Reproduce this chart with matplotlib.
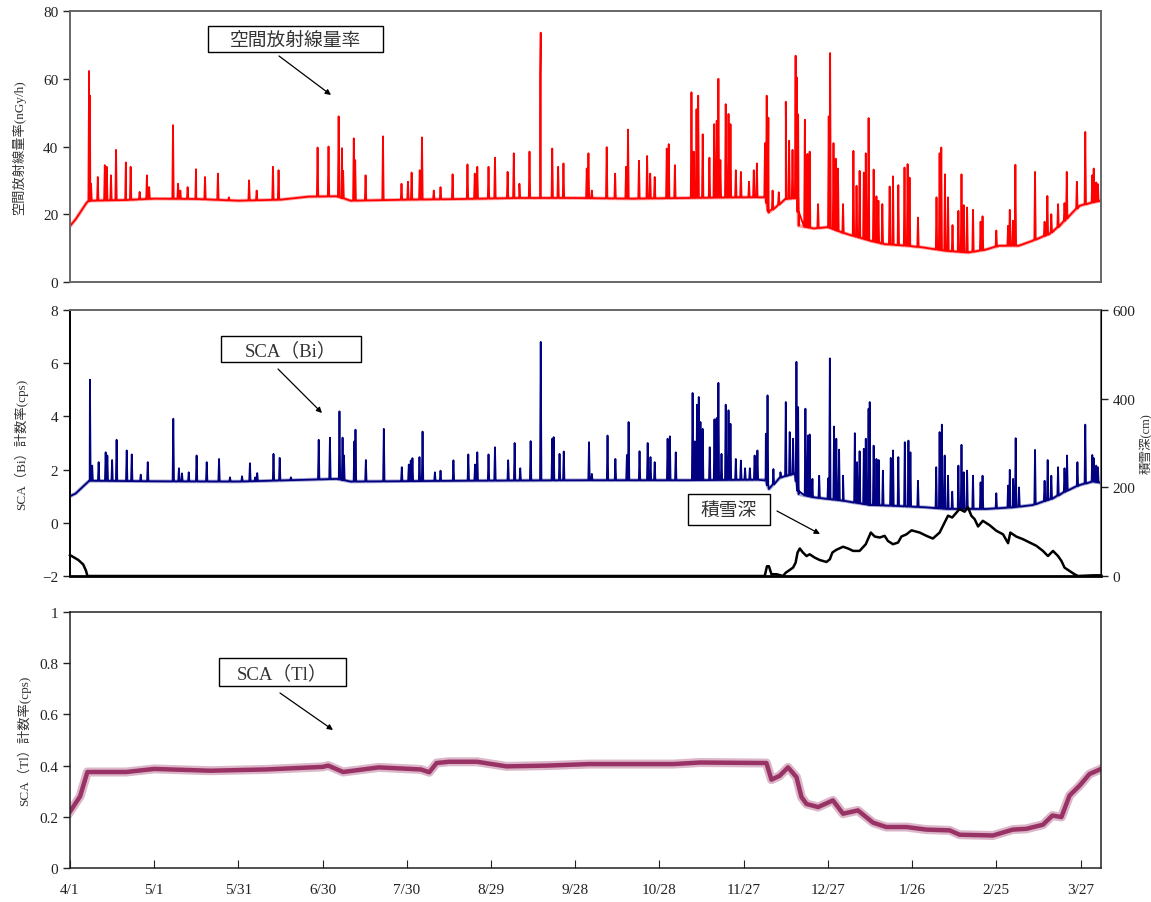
import numpy as np
import matplotlib
matplotlib.use("Agg")
import matplotlib.pyplot as plt
from matplotlib.patches import Rectangle, FancyArrowPatch

plt.rcParams['font.family'] = ['Liberation Serif', 'Noto Sans CJK JP', 'DejaVu Sans']

W, H = 1151, 903

# x axis: days since 4/1
tick_days = [0, 30, 60, 90, 120, 150, 180, 210, 240, 270, 300, 330, 360]
tick_labels = ['4/1', '5/1', '5/31', '6/30', '7/30', '8/29', '9/28',
               '10/28', '11/27', '12/27', '1/26', '2/25', '3/27']

# 空間放射線量率 (nGy/h): baseline + spikes
dose_base_d = [0, 2, 4, 6, 7, 20, 30, 45, 60, 75, 85, 95, 100, 120, 140, 160, 180,
               200, 220, 240, 247.8, 248.9, 252, 255, 259.2, 259.6, 265, 270, 275,
               280, 285, 290, 298, 304, 312, 320, 326, 331, 338, 343, 349, 352.6,
               356, 359.7, 364.4, 367.3]
dose_base_v = [16.5, 18.5, 21, 23.5, 24, 24.2, 24.6, 24.5, 24, 24.3, 25.2, 25.3, 24,
               24.3, 24.5, 24.8, 24.8, 24.6, 24.8, 25, 25, 20.5, 22.5, 24.5, 24.8,
               16.6, 15.8, 16.2, 14.6, 13.4, 12.2, 11.2, 10.7, 10.2, 9.2, 8.7, 9.5,
               10.7, 10.7, 12.2, 14.2, 16.6, 19.5, 22.5, 23.5, 24]
dose_spike_d = [6.8, 7.1, 7.5, 9.9, 12.4, 13.1, 14.6, 16.4, 19.9, 21.6, 24.8, 27.4,
                28.2, 36.7, 38.5, 39.3, 41.9, 44.9, 48.1, 52.7, 56.6, 63.8, 66.5,
                72.3, 74.3, 88.2, 92.1, 95.7, 96.9, 97.3, 101.1, 101.6, 105.3,
                111.5, 118.1, 120.4, 121.7, 124.6, 125.4, 129.6, 132.0, 136.3,
                141.6, 144.2, 145.1, 149.1, 151.4, 155.9, 158.1, 160.1, 163.7,
                167.5, 167.7, 171.8, 173.9, 175.8, 184.1, 184.7, 185.9, 191.2,
                194.2, 198.1, 198.8, 202.7, 205.6, 206.7, 208.3, 212.6, 213.3,
                215.5, 221.4, 222.2, 223.2, 223.8, 225.4, 227.8, 229.5, 230.4,
                231.0, 231.7, 233.6, 234.6, 235.3, 237.2, 239.0, 241.9, 243.6,
                244.7, 247.6, 248.2, 248.8, 250.3, 252.5, 255.0, 256.2, 257.4,
                258.5, 258.9, 259.4, 261.8, 262.7, 263.5, 266.5, 270.3, 270.8,
                272.0, 272.8, 273.6, 275.4, 279.1, 280.2, 281.3, 282.8, 283.5,
                284.5, 286.3, 287.3, 288.0, 289.4, 292.0, 293.2, 295.1, 297.3,
                298.4, 299.1, 302.1, 308.7, 309.8, 310.4, 311.7, 312.8, 314.4,
                316.5, 317.6, 318.4, 319.6, 321.7, 324.4, 325.1, 330.0, 334.2,
                334.8, 335.9, 336.8, 343.8, 347.2, 348.2, 349.6, 352.0, 354.3,
                355.1, 358.7, 361.7, 364.2, 364.7, 365.6, 366.2]
dose_spike_v = [62.3, 55, 29, 31, 34.5, 34, 31.5, 39, 35.3, 34, 26.6, 31.5,
                28, 46.3, 29, 27, 28, 33.3, 31, 32, 25, 30, 27,
                34, 33, 39.7, 40, 48.9, 39.5, 32.8, 42.4, 36, 31.5,
                43, 29, 29.6, 32.3, 33, 42.7, 27, 28, 31.8,
                34.7, 32, 34, 34, 36.7, 32.5, 38, 29, 38.5,
                61, 73.6, 39.4, 34, 35, 33.5, 38, 27, 39.8,
                32, 34, 45, 35.8, 37.2, 32, 31, 39.4, 40.7,
                34.5, 56, 38.5, 51, 55, 43.6, 36.7, 46.6, 47.6,
                60, 36, 52.5, 49.6, 46.6, 33, 32.5, 29.6, 33,
                35, 41, 55, 48.5, 27, 26.5, 53.2, 41.7, 39,
                66.8, 60.4, 49.5, 47.9, 37.8, 38.5, 23, 48.9, 67.6,
                41, 36.4, 33.5, 23, 38.7, 28.4, 32.8, 32.3, 38,
                48.4, 33.2, 25.3, 24, 23, 28.2, 31.2, 28.6, 33.8,
                34.8, 30.8, 19, 25, 38, 39.7, 31.8, 25, 16.8,
                21, 31.8, 22.7, 22, 21.3, 17.8, 19.4, 15.2, 16.6,
                21.3, 18.1, 34.6, 32.5, 17.8, 25.4, 20, 23, 23.3,
                32.5, 29.6, 44.3, 31.5, 33.5, 29.4, 28.9]

# SCA(Bi) count rate (cps)
bi_base_d = [0, 2, 4, 6, 7, 30, 60, 85, 95, 100, 140, 180, 220, 247.8, 249.0, 253,
             258.3, 259.6, 264.7, 275.4, 284.9, 293.2, 305.1, 312.2, 326.4, 335.9,
             343.1, 350.2, 355.0, 359.7, 364.4, 367.3]
bi_base_v = [1.0, 1.1, 1.3, 1.5, 1.58, 1.56, 1.55, 1.62, 1.65, 1.55, 1.58, 1.6, 1.6,
             1.62, 1.27, 1.7, 1.85, 1.08, 0.96, 0.83, 0.67, 0.64, 0.58, 0.52, 0.52,
             0.58, 0.67, 0.92, 1.2, 1.42, 1.55, 1.5]
bi_spike_d = [7.1, 7.9, 10.2, 12.7, 13.3, 15.0, 16.6, 20.2, 22.0, 25.2, 27.7, 36.8,
              38.8, 39.9, 42.3, 45.1, 48.7, 53.1, 57.0, 61.3, 64.1, 66.0, 66.7,
              72.5, 74.7, 78.7, 88.6, 92.6, 96.0, 97.1, 97.6, 101.3, 101.7, 105.4,
              111.8, 118.2, 120.7, 121.4, 122.0, 124.5, 125.6, 130.0, 132.0, 136.6,
              141.9, 144.3, 145.1, 149.1, 151.4, 156.1, 158.4, 160.4, 164.1, 167.7,
              171.8, 172.3, 174.4, 175.9, 184.9, 185.9, 191.5, 194.3, 198.4, 199.0,
              202.9, 205.8, 206.8, 208.3, 212.9, 213.7, 215.8, 221.8, 222.6, 223.4,
              224.0, 224.6, 225.4, 227.9, 229.6, 230.4, 231.0, 232.1, 233.6, 234.6,
              235.3, 237.2, 239.0, 240.5, 242.2, 243.9, 244.9, 247.9, 248.5, 250.6,
              253.1, 255.0, 256.4, 257.6, 258.8, 259.4, 262.0, 262.9, 263.5, 264.5,
              266.9, 270.1, 270.7, 272.2, 273.0, 274.0, 275.4, 279.6, 280.4, 281.3,
              282.8, 283.5, 284.5, 284.9, 286.3, 287.3, 288.1, 289.6, 292.4, 293.2,
              295.1, 297.4, 298.7, 299.4, 302.1, 308.6, 309.8, 310.6, 311.6, 312.8,
              314.3, 316.5, 317.6, 318.4, 319.6, 321.7, 324.4, 325.1, 330.0, 334.2,
              334.8, 336.0, 336.9, 338.1, 343.8, 347.2, 348.3, 349.6, 352.0, 354.3,
              355.2, 358.9, 361.7, 364.2, 364.7, 365.6, 366.2]
bi_spike_v = [5.38, 2.15, 2.28, 2.65, 2.53, 2.36, 3.12, 2.72, 2.57, 1.81, 2.28, 3.91,
              2.05, 1.86, 1.9, 2.53, 2.28, 2.4, 1.71, 1.75, 2.24, 1.71, 1.87,
              2.59, 2.44, 1.71, 3.12, 3.2, 4.19, 3.2, 2.53, 3.06, 3.5, 2.36,
              3.53, 2.09, 2.19, 2.34, 2.43, 2.47, 3.43, 1.9, 1.96, 2.35,
              2.57, 2.19, 2.65, 2.57, 2.84, 2.35, 3.0, 2.05, 3.07, 6.8,
              3.16, 3.22, 2.59, 2.68, 3.03, 1.84, 3.28, 2.4, 2.55, 3.79,
              2.69, 3.0, 2.47, 2.28, 3.16, 3.25, 2.65, 4.88, 3.06, 4.44,
              4.73, 3.79, 3.53, 2.84, 3.89, 3.94, 5.26, 2.59, 4.44, 4.23,
              3.72, 2.4, 2.34, 2.05, 2.05, 2.53, 2.72, 3.35, 4.79, 2.02,
              1.9, 4.54, 3.41, 3.16, 6.05, 4.35, 4.29, 3.28, 3.32, 1.65,
              1.77, 1.67, 6.18, 3.62, 3.16, 2.75, 1.77, 3.37, 2.28, 2.69,
              2.78, 3.16, 4.29, 4.54, 2.9, 2.4, 2.36, 1.96, 2.44, 2.72,
              2.47, 3.03, 3.09, 2.65, 1.58, 2.09, 3.41, 3.69, 2.53, 1.77,
              1.17, 2.15, 2.93, 1.9, 1.96, 1.77, 1.52, 1.77, 1.11, 1.4,
              1.99, 1.65, 3.18, 1.33, 2.74, 1.58, 2.36, 1.77, 2.09, 2.05,
              2.53, 2.28, 3.69, 2.55, 2.43, 2.15, 2.09]

# 積雪深 (cm)
snow_d = [0, 0.6, 3.0, 4.7, 5.7, 6.2, 247.5, 248.3, 249.0, 249.9, 251.7, 254.0,
          255.0, 256.4, 257.6, 258.5, 259.2, 260.0, 261.1, 262.4, 263.5, 265.3,
          267.1, 269.5, 270.7, 271.6, 273.0, 275.4, 277.2, 279.0, 281.3, 283.5,
          285.3, 286.7, 288.5, 290.2, 291.4, 293.2, 295.0, 296.2, 298.0, 299.8,
          302.7, 305.1, 307.4, 309.8, 311.6, 312.8, 314.3, 315.8, 316.9, 318.7,
          319.9, 321.1, 322.3, 323.5, 325.2, 327.6, 330.0, 332.4, 334.2, 335.0,
          337.1, 339.5, 341.9, 344.3, 346.6, 348.4, 350.2, 352.0, 353.2, 354.3,
          356.1, 357.9, 359.1, 364.4, 367.3]
snow_v = [47, 45, 36, 26, 12, 0, 0, 22, 22, 4, 4, 0,
          7.5, 13.6, 19, 30, 53, 62, 53, 45, 49, 41.5,
          36, 31.7, 37.7, 53, 59, 66, 62, 56.6, 56.6, 71.7,
          98, 89, 86.8, 90.6, 79, 71.7, 75.5, 89, 94, 103,
          98, 90.6, 84.5, 98, 120.8, 136, 132, 143, 151, 145,
          155, 136, 128, 111.7, 124.5, 114.7, 102, 94, 74, 98,
          89, 83, 75.5, 68, 56.6, 45, 56.6, 45, 34, 19,
          11.3, 3.8, 0, 1.5, 1.5]

# SCA(Tl) count rate (cps)
tl_d = [0, 3.6, 6.2, 20, 30, 50, 70, 90, 92, 97.3, 110, 125, 128, 130.6, 135, 145,
        155.5, 170, 185, 215, 224.4, 248.1, 249.9, 252.8, 255.8, 258.8, 260.6,
        262.4, 266.5, 271.8, 275.4, 280.7, 286.1, 290.8, 298.0, 305.1, 313.4,
        316.9, 328.8, 335.9, 340.7, 346.6, 350.0, 353.2, 356.1, 359.7, 363.2, 367.3]
tl_v = [0.22, 0.28, 0.375, 0.375, 0.387, 0.38, 0.385, 0.395, 0.40, 0.375, 0.393,
        0.385, 0.374, 0.41, 0.415, 0.415, 0.397, 0.40, 0.406, 0.406, 0.412, 0.41,
        0.345, 0.36, 0.393, 0.355, 0.277, 0.25, 0.238, 0.264, 0.212, 0.225, 0.177,
        0.16, 0.16, 0.15, 0.147, 0.13, 0.127, 0.15, 0.153, 0.169, 0.205, 0.199,
        0.283, 0.322, 0.367, 0.387]


def with_spikes(base_d, base_v, spike_d, spike_v, w=0.25):
    pts = list(zip(base_d, base_v))
    for d, v in zip(spike_d, spike_v):
        b = float(np.interp(d, base_d, base_v))
        pts += [(d - w, b), (d, v), (d + w, b)]
    pts.sort(key=lambda p: p[0])
    x, y = zip(*pts)
    return np.array(x), np.array(y)


def fpos(x, y):
    return (x / W, 1 - y / H)


def label_box(fig, x0, y0, x1, y1, text, size=13.5):
    fig.add_artist(Rectangle(fpos(x0, y1), (x1 - x0) / W, (y1 - y0) / H,
                             transform=fig.transFigure, facecolor='white',
                             edgecolor='black', lw=1.0))
    fig.text(*fpos((x0 + x1) / 2, (y0 + y1) / 2 + 1), text, ha='center',
             va='center', fontsize=size, color='#333333')


def arrow(fig, x0, y0, x1, y1):
    fig.add_artist(FancyArrowPatch(
        fpos(x0, y0), fpos(x1, y1), transform=fig.transFigure,
        arrowstyle='-|>', mutation_scale=8, lw=0.9, color='black',
        shrinkA=0, shrinkB=0))


fig = plt.figure(figsize=(W / 100, H / 100), dpi=100)
L, R = 70, 1101
XMAX = 367.3

def make_ax(top, bottom):
    return fig.add_axes([L / W, 1 - bottom / H, (R - L) / W, (bottom - top) / H])

ax1 = make_ax(12, 283)
ax2 = make_ax(311, 577)
ax3 = make_ax(613, 869)

tick_kw = dict(labelsize=11, length=5, width=1, colors='#222222')

# top panel
x, y = with_spikes(dose_base_d, dose_base_v, dose_spike_d, dose_spike_v)
ax1.plot(dose_base_d, dose_base_v, color='#FF0000', lw=2.6, alpha=0.35)
ax1.plot(x, y, color='#FF0000', lw=1.3)
ax1.set_ylim(0, 80)
ax1.set_yticks([0, 20, 40, 60, 80])
ax1.set_ylabel('空間放射線量率(nGy/h)', fontsize=9.5, labelpad=12)

# middle panel
x, y = with_spikes(bi_base_d, bi_base_v, bi_spike_d, bi_spike_v)
ax2.plot(bi_base_d, bi_base_v, color='#000080', lw=2.6, alpha=0.35)
ax2.plot(x, y, color='#000080', lw=1.3)
ax2.set_ylim(-2, 8)
ax2.set_yticks([-2, 0, 2, 4, 6, 8])
ax2.set_yticklabels(['\u22122', '0', '2', '4', '6', '8'])
ax2.set_ylabel('SCA（Bi）計数率(cps)', fontsize=9.5, labelpad=10)
ax2b = ax2.twinx()
ax2b.plot(snow_d, snow_v, color='black', lw=1.8, clip_on=False)
ax2b.set_ylim(0, 600)
ax2b.set_yticks([0, 200, 400, 600])
ax2b.set_ylabel('積雪深(cm)', fontsize=9, labelpad=3)
ax2b.tick_params(axis='y', **tick_kw)
ax2b.set_xlim(0, XMAX)

# bottom panel
ax3.plot(tl_d, tl_v, color='#993366', lw=6.5, alpha=0.35)
ax3.plot(tl_d, tl_v, color='#993366', lw=3.2)
ax3.set_ylim(0, 1)
ax3.set_yticks([0, 0.2, 0.4, 0.6, 0.8, 1])
ax3.set_yticklabels(['0', '0.2', '0.4', '0.6', '0.8', '1'])
ax3.set_ylabel('SCA（Tl）計数率(cps)', fontsize=9.5, labelpad=6)
ax3.set_xticks(tick_days)
ax3.set_xticklabels(tick_labels)
ax3.tick_params(axis='x', direction='in', labelsize=11, length=6, pad=11,
                colors='#222222')

for ax in (ax1, ax2, ax3):
    ax.set_xlim(0, XMAX)
    ax.tick_params(axis='y', **tick_kw)
    ax.yaxis.label.set_color('#333333')
    for s in ax.spines.values():
        s.set_color('#666666')
        s.set_linewidth(1.4)
for ax in (ax1, ax2):
    ax.set_xticks([])
ax2.spines['left'].set_color('black')
ax2.spines['bottom'].set_color('black')
ax2.spines['bottom'].set_linewidth(2)
for s in ax2b.spines.values():
    s.set_visible(False)
ax2b.spines['right'].set_visible(True)
ax2b.spines['right'].set_color('black')
ax2b.yaxis.label.set_color('#333333')
for s in ax3.spines.values():
    s.set_color('#222222')
    s.set_linewidth(1.1)

# annotation boxes
label_box(fig, 208, 27, 383, 53, '空間放射線量率')
arrow(fig, 279, 57, 331, 96)
label_box(fig, 221, 337, 361, 363, 'SCA（Bi）')
arrow(fig, 278, 370, 322, 414)
label_box(fig, 688, 495, 770, 526, '積雪深')
arrow(fig, 777, 512, 820, 535)
label_box(fig, 219, 659, 346, 687, 'SCA（Tl）')
arrow(fig, 280, 694, 333, 731)

fig.savefig('out.png', dpi=100)
